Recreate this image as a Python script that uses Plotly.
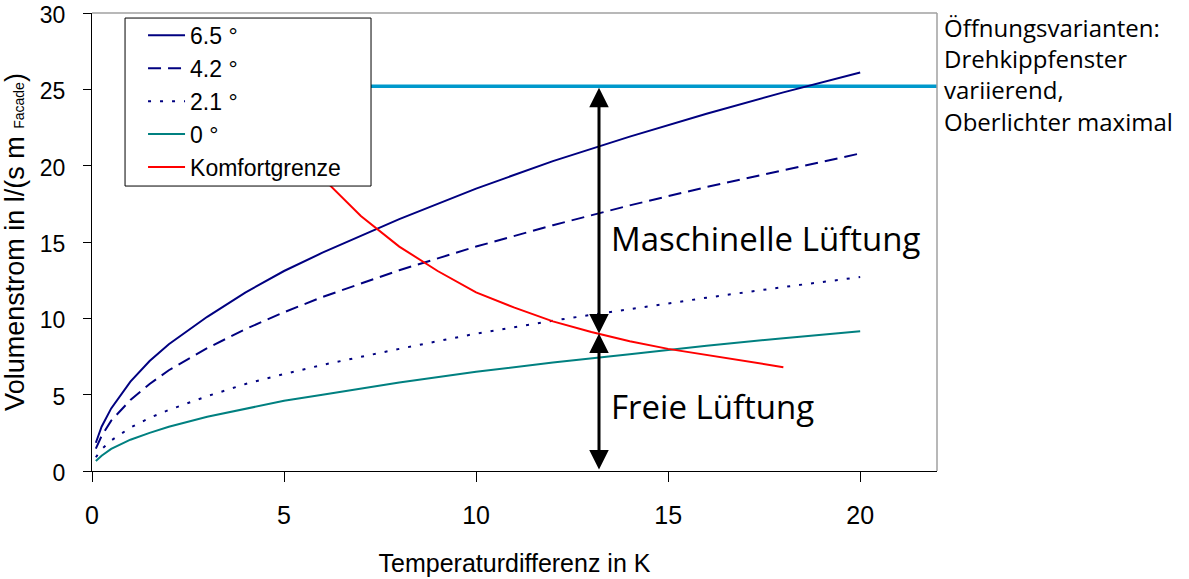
import plotly.graph_objects as go

# Temperature difference (K) at which the opening variants were evaluated
temp_diff = [0.1, 0.25, 0.5, 1, 1.5, 2, 3, 4, 5, 6, 8, 10, 12, 14, 16, 18, 20]

# Volume flow in l/(s m_Facade) per tilt angle of the turn-tilt window
flow_6_5 = [1.85, 2.9, 4.1, 5.85, 7.2, 8.3, 10.1, 11.7, 13.1, 14.3, 16.5, 18.5, 20.3, 21.9, 23.4, 24.8, 26.1]
flow_4_2 = [1.47, 2.3, 3.3, 4.65, 5.7, 6.6, 8.05, 9.3, 10.4, 11.4, 13.15, 14.7, 16.1, 17.4, 18.6, 19.7, 20.8]
flow_2_1 = [0.9, 1.42, 2.0, 2.84, 3.48, 4.0, 4.9, 5.7, 6.35, 6.95, 8.0, 9.0, 9.85, 10.6, 11.35, 12.05, 12.7]
flow_0 = [0.65, 1.0, 1.45, 2.05, 2.5, 2.9, 3.55, 4.1, 4.6, 5.0, 5.8, 6.5, 7.1, 7.65, 8.2, 8.7, 9.15]

# Comfort limit
comfort_temp = [5, 6, 7, 8, 9, 10, 11, 12, 13, 14, 15, 16, 17, 18]
comfort_flow = [22.5, 19.2, 16.7, 14.7, 13.1, 11.7, 10.7, 9.8, 9.1, 8.5, 8.0, 7.6, 7.2, 6.8]

# Maximum volume flow of the mechanical ventilation
max_flow_temp = [7.0, 22.0]
max_flow = [25.2, 25.2]

# Operating point marked by the arrows
split_temp = 13.2
split_flow = 9.0

x_ticks = [0, 5, 10, 15, 20]
y_ticks = [0, 5, 10, 15, 20, 25, 30]

NAVY = "#000080"
TEAL = "#008080"
RED = "#FF0000"
CYAN = "#0099CC"

fig = go.Figure()

fig.add_trace(go.Scatter(x=max_flow_temp, y=max_flow, mode="lines",
                         line=dict(color=CYAN, width=3.5), showlegend=False,
                         hoverinfo="skip"))
fig.add_trace(go.Scatter(x=temp_diff, y=flow_6_5, mode="lines", name="6.5 °",
                         line=dict(color=NAVY, width=2)))
fig.add_trace(go.Scatter(x=temp_diff, y=flow_4_2, mode="lines", name="4.2 °",
                         line=dict(color=NAVY, width=2, dash="13px,7px")))
fig.add_trace(go.Scatter(x=temp_diff, y=flow_2_1, mode="lines", name="2.1 °",
                         line=dict(color=NAVY, width=2, dash="3px,9px")))
fig.add_trace(go.Scatter(x=temp_diff, y=flow_0, mode="lines", name="0 °",
                         line=dict(color=TEAL, width=2)))
fig.add_trace(go.Scatter(x=comfort_temp, y=comfort_flow, mode="lines", name="Komfortgrenze",
                         line=dict(color=RED, width=2)))

# Double-headed arrows: mechanical ventilation above, natural ventilation below
for y_from, y_to in [(max_flow[0], split_flow), (0, split_flow)]:
    fig.add_annotation(x=split_temp, y=y_to, ax=split_temp, ay=y_from,
                       xref="x", yref="y", axref="x", ayref="y", text="",
                       showarrow=True, arrowhead=2, startarrowhead=2,
                       arrowside="end+start", arrowsize=1.3, startarrowsize=1.3,
                       arrowwidth=3, arrowcolor="black", standoff=0, startstandoff=0)

label_font = dict(family="Open Sans, Noto Sans, sans-serif", size=33, color="black")
fig.add_annotation(x=13.2, y=15.2, xref="x", yref="y", text="Maschinelle Lüftung",
                   showarrow=False, xanchor="left", yanchor="middle", xshift=10,
                   font=label_font)
fig.add_annotation(x=13.2, y=4.2, xref="x", yref="y", text="Freie Lüftung",
                   showarrow=False, xanchor="left", yanchor="middle", xshift=10,
                   font=label_font)

fig.add_annotation(x=1.0, y=1.0, xref="paper", yref="paper",
                   text="Öffnungsvarianten:<br>Drehkippfenster<br>variierend,<br>Oberlichter maximal",
                   showarrow=False, xanchor="left", yanchor="top", align="left",
                   xshift=5, yshift=4,
                   font=dict(family="Open Sans, Noto Sans, sans-serif", size=24, color="black"))

# Grey frame on top and right of the plot area
fig.add_shape(type="line", xref="paper", yref="paper", x0=0, x1=1, y0=1, y1=1,
              line=dict(color="#A0A0A0", width=1.5))
fig.add_shape(type="line", xref="paper", yref="paper", x0=1, x1=1, y0=0, y1=1,
              line=dict(color="#A0A0A0", width=1.5))

# Framed white box behind the legend entries (covers the curves beneath it)
fig.add_shape(type="rect", xref="paper", yref="paper",
              x0=0.0391, x1=0.3302, y0=0.6222, y1=0.989,
              fillcolor="white", line=dict(color="black", width=1), layer="above")

x_font = dict(family="Liberation Sans, Arial, sans-serif", size=25, color="black")
y_font = dict(family="Liberation Sans, Arial, sans-serif", size=23, color="black")
fig.update_xaxes(range=[0, 22], tickvals=x_ticks, ticks="outside", ticklen=10,
                 tickcolor="black", showline=True, linecolor="black", linewidth=1,
                 showgrid=False, zeroline=False, tickfont=x_font, automargin=False,
                 ticklabelstandoff=12, ticklabeloverflow="allow",
                 title=dict(text="Temperaturdifferenz in K", font=x_font, standoff=26))
fig.update_yaxes(range=[0, 30], tickvals=y_ticks, ticks="outside", ticklen=8,
                 tickcolor="black", showline=True, linecolor="black", linewidth=1,
                 showgrid=False, zeroline=False, tickfont=y_font, automargin=False,
                 ticklabelstandoff=13, ticklabeloverflow="allow", ticklabelshift=2,
                 title=dict(text="Volumenstrom in l/(s m <span style='font-size:14px'>Facade</span>)",
                            font=dict(family="Liberation Sans, Arial, sans-serif", size=27,
                                      color="black"),
                            standoff=14))

fig.update_layout(
    width=1189, height=579,
    margin=dict(l=92, r=252, t=13, b=108, autoexpand=False),
    paper_bgcolor="white", plot_bgcolor="white",
    font=dict(family="Liberation Sans, Arial, sans-serif", color="black"),
    legend=dict(x=0.0604, y=0.998, xanchor="left", yanchor="top",
                bgcolor="rgba(0,0,0,0)", borderwidth=0,
                font=dict(family="Liberation Sans, Arial, sans-serif", size=23, color="black"),
                itemwidth=37, tracegroupgap=0),
)

fig.write_html("out.html")
